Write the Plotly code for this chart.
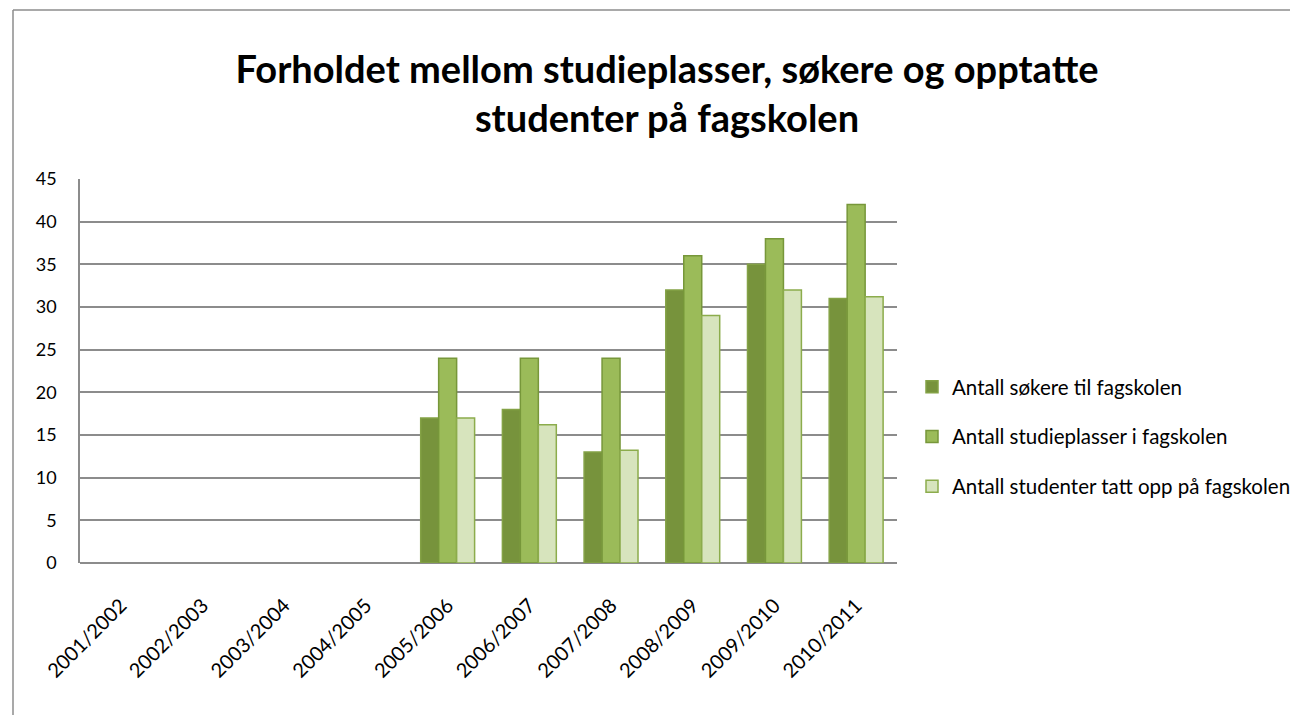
import plotly.graph_objects as go

categories = ["2001/2002", "2002/2003", "2003/2004", "2004/2005", "2005/2006",
              "2006/2007", "2007/2008", "2008/2009", "2009/2010", "2010/2011"]
sokere = [None, None, None, None, 17, 18, 13, 32, 35, 31]
studieplasser = [None, None, None, None, 24, 24, 24, 36, 38, 42]
opptatt = [None, None, None, None, 17, 16.2, 13.2, 29, 32, 31.2]
y_ticks = [0, 5, 10, 15, 20, 25, 30, 35, 40, 45]

names = ["Antall søkere til fagskolen", "Antall studieplasser i fagskolen",
         "Antall studenter tatt opp på fagskolen"]
fills = ["#77933C", "#9BBB59", "#D7E4BD"]
lines = ["#84A246", "#77973A", "#8CAC4C"]

OFF = 8  # page offset of the figure (body margin)
W, H = 1298 - OFF, 715 - OFF
# plot area in page pixels
L, R, T, B = 80, 897, 179, 563
L, R, T, B = L - OFF, R - OFF, T - OFF, B - OFF


def px_x(p):
    return (p - OFF - L) / (R - L)


def px_y(p):
    return (B - (p - OFF)) / (B - T)


fig = go.Figure()
for i, vals in enumerate([sokere, studieplasser, opptatt]):
    fig.add_trace(go.Bar(
        x=categories, y=vals, name=names[i], legendgroup=f"g{i}",
        marker=dict(color=fills[i], line=dict(color=lines[i], width=1.5)),
    ))

frame = dict(color="#8C8C8C", width=1.5)
fig.add_shape(type="line", xref="paper", yref="paper",
              x0=px_x(13), x1=px_x(13), y0=px_y(10), y1=px_y(730), line=frame)
fig.add_shape(type="line", xref="paper", yref="paper",
              x0=px_x(13), x1=px_x(1291), y0=px_y(10), y1=px_y(10), line=frame)
fig.add_shape(type="line", xref="paper", yref="paper",
              x0=px_x(1291), x1=px_x(1291), y0=px_y(10), y1=px_y(730), line=frame)

fig.update_layout(
    width=W, height=H,
    margin=dict(l=L, r=W - R, t=T, b=H - B, autoexpand=False),
    paper_bgcolor="white", plot_bgcolor="white",
    title=dict(text="Forholdet mellom studieplasser, søkere og opptatte<br>studenter på fagskolen",
               x=(667 - OFF) / W, xref="container", xanchor="center",
               y=1 - (83 - OFF) / H, yanchor="top",
               font=dict(family="Lato", size=38, color="black", weight="bold")),
    font=dict(family="Lato", size=18, color="black"),
    barmode="group", bargap=0.34, bargroupgap=0,
    showlegend=True,
    legend=dict(x=(952 - OFF - 40 - L) / (R - L), xanchor="left",
                y=(B - (367 - OFF)) / (B - T), yanchor="top",
                font=dict(size=20.5, family="Lato"), tracegroupgap=20,
                itemwidth=30, bgcolor="rgba(0,0,0,0)"),
    xaxis=dict(type="category", tickangle=-45, showgrid=False, showline=False,
               ticks="", tickfont=dict(size=20), categoryorder="array",
               categoryarray=categories, ticklabelstandoff=26),
    yaxis=dict(range=[0, 45], tickvals=y_ticks, showgrid=True, gridcolor="#8C8C8C",
               gridwidth=1.5, zeroline=True, zerolinecolor="#8C8C8C", zerolinewidth=2,
               showline=True, linecolor="#8C8C8C", linewidth=1.5,
               ticks="", tickfont=dict(size=18), ticklabelstandoff=18),
)

fig.write_html("out.html")
